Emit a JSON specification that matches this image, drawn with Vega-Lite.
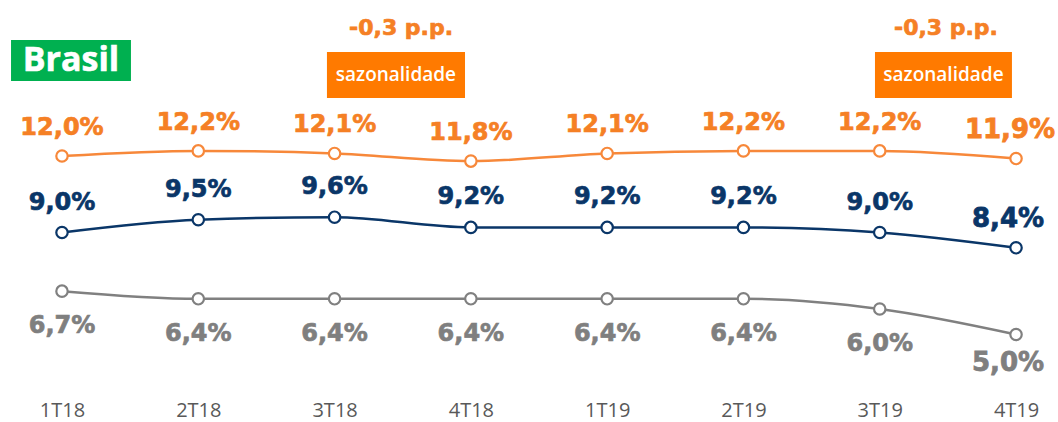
{
  "$schema": "https://vega.github.io/schema/vega-lite/v6.json",
  "width": 1058,
  "height": 422,
  "autosize": "none",
  "padding": 0,
  "background": "white",
  "config": {"view": {"stroke": null}},
  "datasets": {
    "series": [
      {"serie": "laranja", "q": 1, "quarter": "1T18", "value": 12.0, "label": "12,0%"},
      {"serie": "laranja", "q": 2, "quarter": "2T18", "value": 12.2, "label": "12,2%"},
      {"serie": "laranja", "q": 3, "quarter": "3T18", "value": 12.1, "label": "12,1%"},
      {"serie": "laranja", "q": 4, "quarter": "4T18", "value": 11.8, "label": "11,8%"},
      {"serie": "laranja", "q": 5, "quarter": "1T19", "value": 12.1, "label": "12,1%"},
      {"serie": "laranja", "q": 6, "quarter": "2T19", "value": 12.2, "label": "12,2%"},
      {"serie": "laranja", "q": 7, "quarter": "3T19", "value": 12.2, "label": "12,2%"},
      {"serie": "laranja", "q": 8, "quarter": "4T19", "value": 11.9, "label": "11,9%"},
      {"serie": "azul", "q": 1, "quarter": "1T18", "value": 9.0, "label": "9,0%"},
      {"serie": "azul", "q": 2, "quarter": "2T18", "value": 9.5, "label": "9,5%"},
      {"serie": "azul", "q": 3, "quarter": "3T18", "value": 9.6, "label": "9,6%"},
      {"serie": "azul", "q": 4, "quarter": "4T18", "value": 9.2, "label": "9,2%"},
      {"serie": "azul", "q": 5, "quarter": "1T19", "value": 9.2, "label": "9,2%"},
      {"serie": "azul", "q": 6, "quarter": "2T19", "value": 9.2, "label": "9,2%"},
      {"serie": "azul", "q": 7, "quarter": "3T19", "value": 9.0, "label": "9,0%"},
      {"serie": "azul", "q": 8, "quarter": "4T19", "value": 8.4, "label": "8,4%"},
      {"serie": "cinza", "q": 1, "quarter": "1T18", "value": 6.7, "label": "6,7%"},
      {"serie": "cinza", "q": 2, "quarter": "2T18", "value": 6.4, "label": "6,4%"},
      {"serie": "cinza", "q": 3, "quarter": "3T18", "value": 6.4, "label": "6,4%"},
      {"serie": "cinza", "q": 4, "quarter": "4T18", "value": 6.4, "label": "6,4%"},
      {"serie": "cinza", "q": 5, "quarter": "1T19", "value": 6.4, "label": "6,4%"},
      {"serie": "cinza", "q": 6, "quarter": "2T19", "value": 6.4, "label": "6,4%"},
      {"serie": "cinza", "q": 7, "quarter": "3T19", "value": 6.0, "label": "6,0%"},
      {"serie": "cinza", "q": 8, "quarter": "4T19", "value": 5.0, "label": "5,0%"}
    ],
    "boxes": [
      {"x1": 2.944, "x2": 3.957, "y1": 14.275, "y2": 16.078, "xc": 3.45, "yc": 15.176, "xt": 3.488, "yt": 17.02, "text": "sazonalidade", "delta": "-0,3 p.p."},
      {"x1": 6.965, "x2": 7.970, "y1": 14.275, "y2": 16.078, "xc": 7.4675, "yc": 15.176, "xt": 7.486, "yt": 17.02, "text": "sazonalidade", "delta": "-0,3 p.p."}
    ],
    "badge": [
      {"x1": 0.626, "x2": 1.506, "y1": 14.94, "y2": 16.55, "xc": 1.066, "yc": 15.765, "text": "Brasil"}
    ]
  },
  "layer": [
    {
      "data": {"name": "series"},
      "mark": {"type": "line", "interpolate": "monotone", "strokeWidth": 2.5},
      "encoding": {
        "x": {"field": "q", "type": "quantitative", "scale": {"domain": [0.5451, 8.3079], "nice": false, "zero": false},
              "axis": {"values": [1,2,3,4,5,6,7,8], "labelExpr": "['','1T18','2T18','3T18','4T18','1T19','2T19','3T19','4T19'][datum.value]", "title": null, "grid": false, "domain": false, "ticks": false, "labelFont": "Open Sans", "labelFontSize": 20, "labelColor": "#595959", "labelPadding": 0, "offset": -22, "labelFlush": false, "labelOverlap": false}},
        "y": {"field": "value", "type": "quantitative", "scale": {"domain": [1.569, 18.118], "nice": false, "zero": false}, "axis": null},
        "color": {"field": "serie", "type": "nominal", "scale": {"domain": ["laranja", "azul", "cinza"], "range": ["#F7883A", "#0A3668", "#808080"]}, "legend": null}
      }
    },
    {
      "data": {"name": "series"},
      "mark": {"type": "point", "shape": "circle", "filled": true, "fill": "white", "strokeWidth": 2.2, "size": 130, "opacity": 1},
      "encoding": {
        "x": {"field": "q", "type": "quantitative"},
        "y": {"field": "value", "type": "quantitative"},
        "stroke": {"field": "serie", "type": "nominal", "scale": {"domain": ["laranja", "azul", "cinza"], "range": ["#F7883A", "#0A3668", "#808080"]}, "legend": null}
      }
    },
    {
      "data": {"name": "series"},
      "transform": [{"filter": "datum.serie == 'laranja' && datum.q < 8"}],
      "mark": {"type": "text", "font": "DejaVu Sans", "fontWeight": "bold", "fontSize": 24, "baseline": "middle", "align": "center", "dy": -28, "color": "#F58025", "stroke": "#F58025", "strokeWidth": 0.7},
      "encoding": {
        "x": {"field": "q", "type": "quantitative"},
        "y": {"field": "value", "type": "quantitative"},
        "text": {"field": "label"}
      }
    },
    {
      "data": {"name": "series"},
      "transform": [{"filter": "datum.serie == 'azul' && datum.q < 8"}],
      "mark": {"type": "text", "font": "DejaVu Sans", "fontWeight": "bold", "fontSize": 24, "baseline": "middle", "align": "center", "dy": -30, "color": "#0A3668", "stroke": "#0A3668", "strokeWidth": 0.7},
      "encoding": {
        "x": {"field": "q", "type": "quantitative"},
        "y": {"field": "value", "type": "quantitative"},
        "text": {"field": "label"}
      }
    },
    {
      "data": {"name": "series"},
      "transform": [{"filter": "datum.serie == 'cinza' && datum.q < 8"}],
      "mark": {"type": "text", "font": "DejaVu Sans", "fontWeight": "bold", "fontSize": 24, "baseline": "middle", "align": "center", "dy": 35, "color": "#7F7F7F", "stroke": "#7F7F7F", "strokeWidth": 0.7},
      "encoding": {
        "x": {"field": "q", "type": "quantitative"},
        "y": {"field": "value", "type": "quantitative"},
        "text": {"field": "label"}
      }
    },
    {
      "data": {"name": "series"},
      "transform": [{"filter": "datum.serie == 'laranja' && datum.q == 8"}],
      "mark": {"type": "text", "font": "DejaVu Sans", "fontWeight": "bold", "fontSize": 26, "baseline": "middle", "align": "center", "dy": -29, "dx": -6, "color": "#F58025", "stroke": "#F58025", "strokeWidth": 0.8},
      "encoding": {
        "x": {"field": "q", "type": "quantitative"},
        "y": {"field": "value", "type": "quantitative"},
        "text": {"field": "label"}
      }
    },
    {
      "data": {"name": "series"},
      "transform": [{"filter": "datum.serie == 'azul' && datum.q == 8"}],
      "mark": {"type": "text", "font": "DejaVu Sans", "fontWeight": "bold", "fontSize": 26, "baseline": "middle", "align": "center", "dy": -29, "dx": -8, "color": "#0A3668", "stroke": "#0A3668", "strokeWidth": 0.8},
      "encoding": {
        "x": {"field": "q", "type": "quantitative"},
        "y": {"field": "value", "type": "quantitative"},
        "text": {"field": "label"}
      }
    },
    {
      "data": {"name": "series"},
      "transform": [{"filter": "datum.serie == 'cinza' && datum.q == 8"}],
      "mark": {"type": "text", "font": "DejaVu Sans", "fontWeight": "bold", "fontSize": 26, "baseline": "middle", "align": "center", "dy": 28, "dx": -8, "color": "#7F7F7F", "stroke": "#7F7F7F", "strokeWidth": 0.8},
      "encoding": {
        "x": {"field": "q", "type": "quantitative"},
        "y": {"field": "value", "type": "quantitative"},
        "text": {"field": "label"}
      }
    },
    {
      "data": {"name": "boxes"},
      "mark": {"type": "rect", "color": "#FF7A00"},
      "encoding": {
        "x": {"field": "x1", "type": "quantitative"},
        "x2": {"field": "x2"},
        "y": {"field": "y1", "type": "quantitative"},
        "y2": {"field": "y2"}
      }
    },
    {
      "data": {"name": "boxes"},
      "mark": {"type": "text", "font": "Open Sans", "fontWeight": 600, "fontSize": 19, "color": "white", "baseline": "middle", "align": "center"},
      "encoding": {
        "x": {"field": "xc", "type": "quantitative"},
        "y": {"field": "yc", "type": "quantitative"},
        "text": {"field": "text"}
      }
    },
    {
      "data": {"name": "boxes"},
      "mark": {"type": "text", "font": "DejaVu Sans", "fontWeight": "bold", "fontSize": 22, "color": "#F58025", "stroke": "#F58025", "strokeWidth": 0.7, "baseline": "middle", "align": "center"},
      "encoding": {
        "x": {"field": "xt", "type": "quantitative"},
        "y": {"field": "yt", "type": "quantitative"},
        "text": {"field": "delta"}
      }
    },
    {
      "data": {"name": "badge"},
      "mark": {"type": "rect", "color": "#00B050"},
      "encoding": {
        "x": {"field": "x1", "type": "quantitative"},
        "x2": {"field": "x2"},
        "y": {"field": "y1", "type": "quantitative"},
        "y2": {"field": "y2"}
      }
    },
    {
      "data": {"name": "badge"},
      "mark": {"type": "text", "font": "Open Sans", "fontWeight": "bold", "fontSize": 34, "color": "white", "stroke": "white", "strokeWidth": 0.6, "baseline": "middle", "align": "center", "dy": 1},
      "encoding": {
        "x": {"field": "xc", "type": "quantitative"},
        "y": {"field": "yc", "type": "quantitative"},
        "text": {"field": "text"}
      }
    }
  ]
}
